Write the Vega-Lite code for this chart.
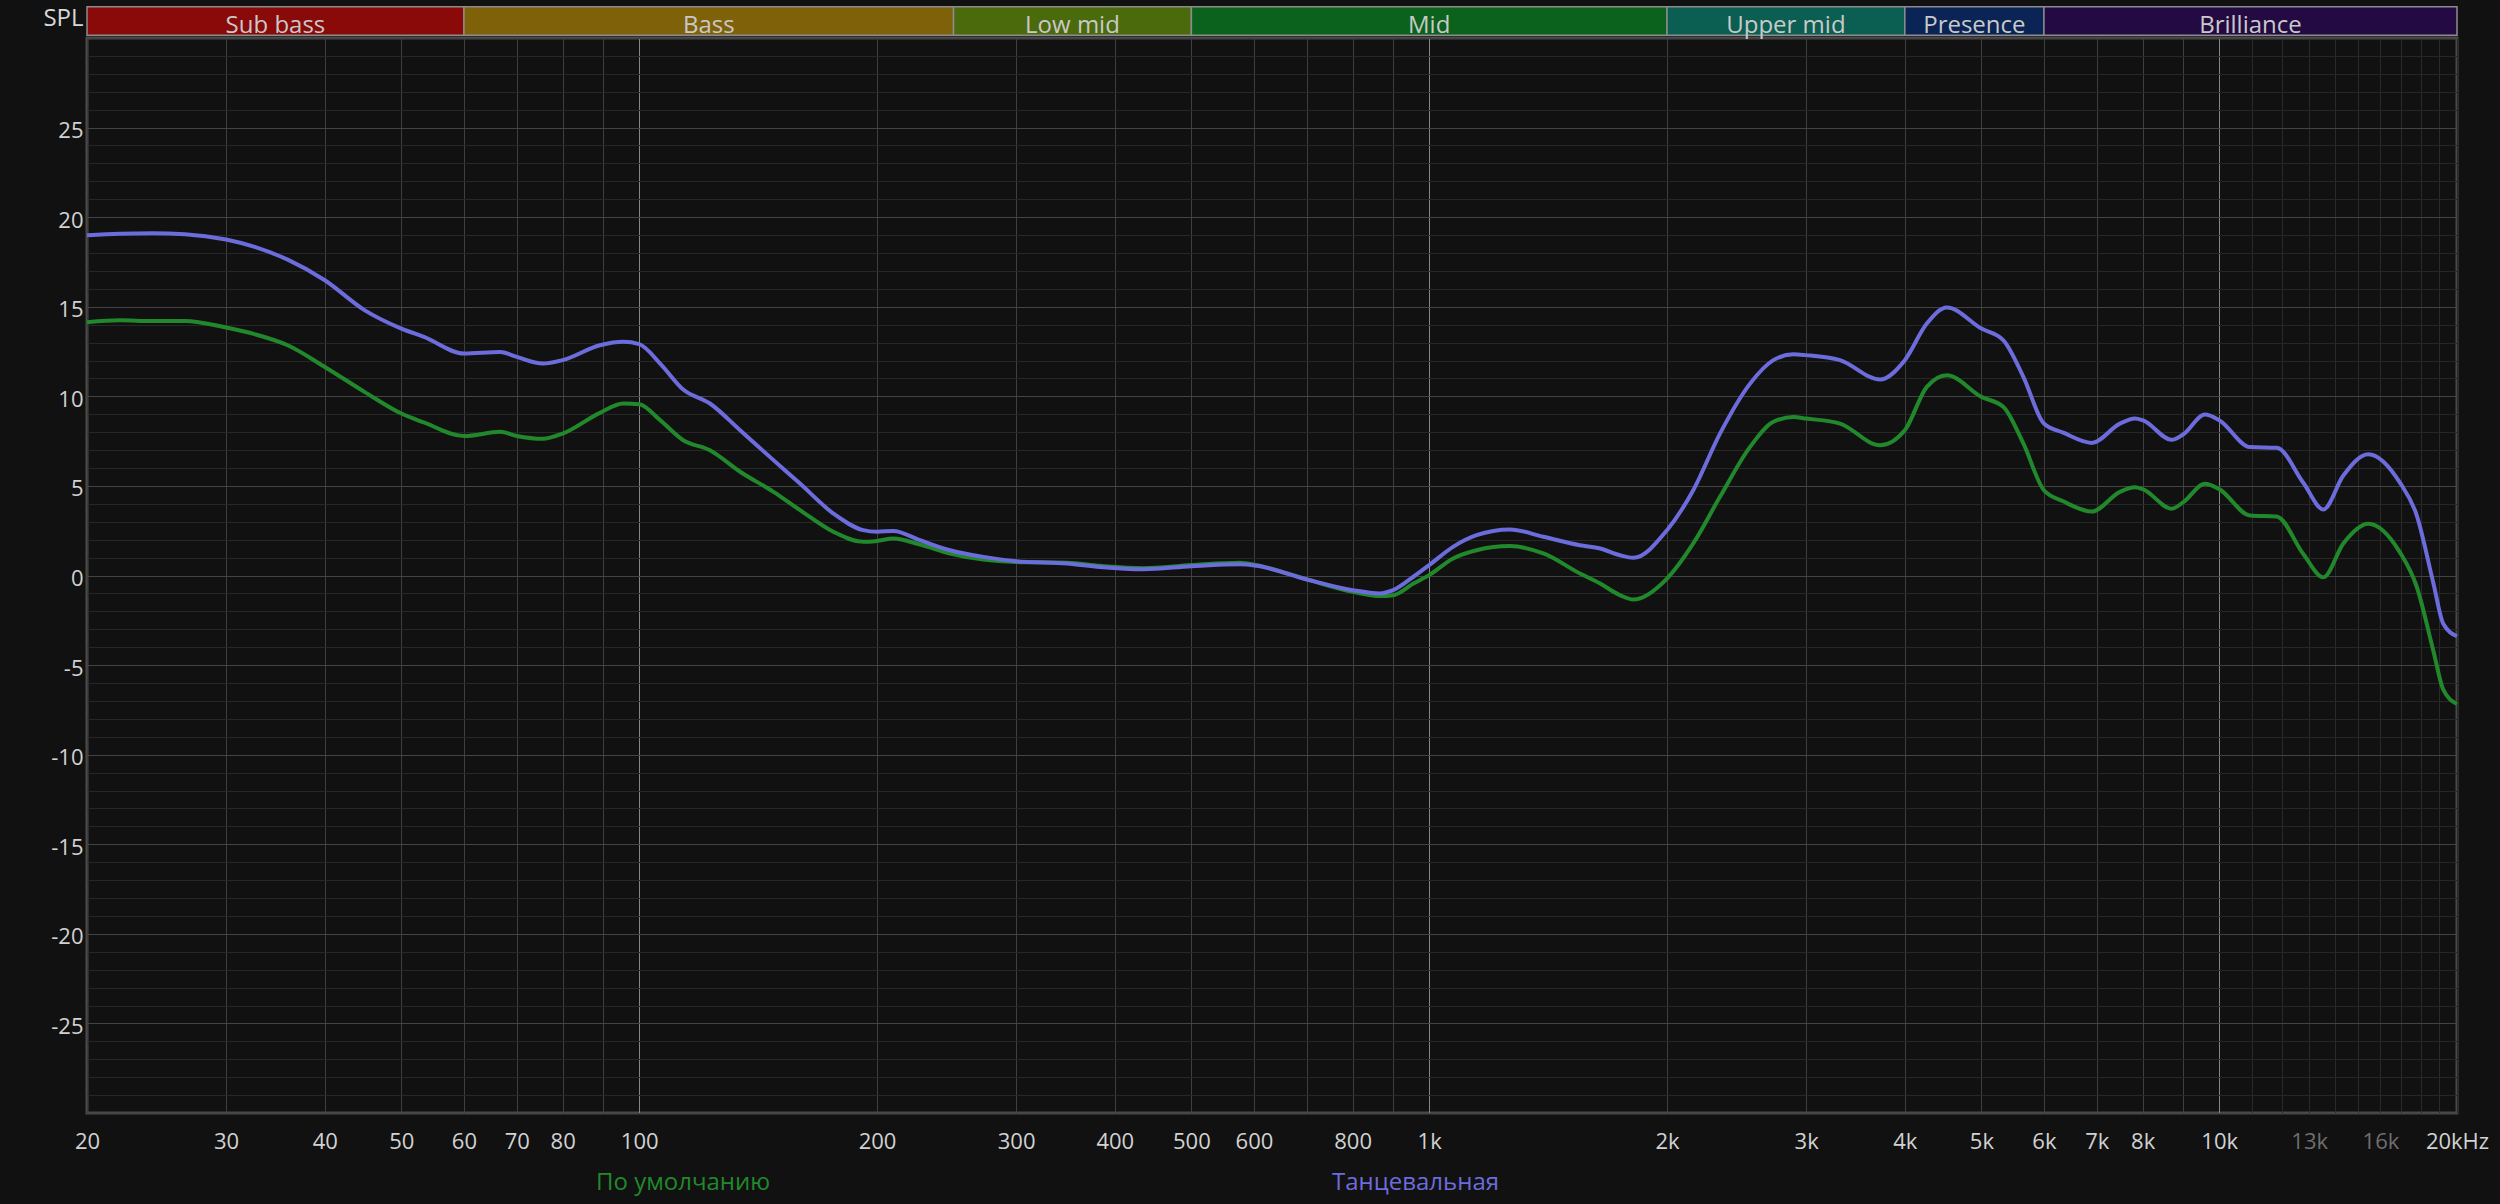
{
  "$schema": "https://vega.github.io/schema/vega-lite/v6.json",
  "width": 2370,
  "height": 1075,
  "autosize": {"type": "none"},
  "padding": {"left": 87, "top": 38, "right": 43, "bottom": 91},
  "background": "#111111",
  "config": {
    "view": {"stroke": "#4a4a4a", "strokeWidth": 3},
    "font": "Open Sans"
  },
  "datasets": {
    "curves": [
      {"s": "По умолчанию", "f": 20, "db": 14.14},
      {"s": "По умолчанию", "f": 22, "db": 14.25},
      {"s": "По умолчанию", "f": 24.2, "db": 14.2},
      {"s": "По умолчанию", "f": 26.6, "db": 14.2},
      {"s": "По умолчанию", "f": 30, "db": 13.84},
      {"s": "По умолчанию", "f": 32.6, "db": 13.47},
      {"s": "По умолчанию", "f": 35.9, "db": 12.85},
      {"s": "По умолчанию", "f": 40, "db": 11.64},
      {"s": "По умолчанию", "f": 44.9, "db": 10.25},
      {"s": "По умолчанию", "f": 50, "db": 9.04},
      {"s": "По умолчанию", "f": 53.4, "db": 8.54},
      {"s": "По умолчанию", "f": 60, "db": 7.78},
      {"s": "По умолчанию", "f": 66.7, "db": 8.02},
      {"s": "По умолчанию", "f": 70, "db": 7.79},
      {"s": "По умолчанию", "f": 75.5, "db": 7.63},
      {"s": "По умолчанию", "f": 80, "db": 7.92},
      {"s": "По умолчанию", "f": 89.2, "db": 9.08},
      {"s": "По умолчанию", "f": 95.5, "db": 9.6},
      {"s": "По умолчанию", "f": 100, "db": 9.56},
      {"s": "По умолчанию", "f": 106.3, "db": 8.67},
      {"s": "По умолчанию", "f": 113.7, "db": 7.55},
      {"s": "По умолчанию", "f": 122.9, "db": 6.99},
      {"s": "По умолчанию", "f": 134.2, "db": 5.79},
      {"s": "По умолчанию", "f": 147.9, "db": 4.67},
      {"s": "По умолчанию", "f": 159.8, "db": 3.65},
      {"s": "По умолчанию", "f": 176.1, "db": 2.44},
      {"s": "По умолчанию", "f": 192.1, "db": 1.88},
      {"s": "По умолчанию", "f": 200, "db": 1.93},
      {"s": "По умолчанию", "f": 209.7, "db": 2.06},
      {"s": "По умолчанию", "f": 226.7, "db": 1.73},
      {"s": "По умолчанию", "f": 247.4, "db": 1.23},
      {"s": "По умолчанию", "f": 272.7, "db": 0.89},
      {"s": "По умолчанию", "f": 300, "db": 0.76},
      {"s": "По умолчанию", "f": 347.9, "db": 0.71},
      {"s": "По умолчанию", "f": 383, "db": 0.54},
      {"s": "По умолчанию", "f": 434.6, "db": 0.41},
      {"s": "По умолчанию", "f": 500, "db": 0.58},
      {"s": "По умолчанию", "f": 576, "db": 0.71},
      {"s": "По умолчанию", "f": 605, "db": 0.58},
      {"s": "По умолчанию", "f": 700, "db": -0.22},
      {"s": "По умолчанию", "f": 800, "db": -0.91},
      {"s": "По умолчанию", "f": 866, "db": -1.15},
      {"s": "По умолчанию", "f": 900, "db": -1.1},
      {"s": "По умолчанию", "f": 955, "db": -0.45},
      {"s": "По умолчанию", "f": 1000, "db": 0.02},
      {"s": "По умолчанию", "f": 1072, "db": 0.95},
      {"s": "По умолчанию", "f": 1148, "db": 1.41},
      {"s": "По умолчанию", "f": 1266, "db": 1.64},
      {"s": "По умолчанию", "f": 1395, "db": 1.23},
      {"s": "По умолчанию", "f": 1552, "db": 0.11},
      {"s": "По умолчанию", "f": 1646, "db": -0.45},
      {"s": "По умолчанию", "f": 1744, "db": -1.1},
      {"s": "По умолчанию", "f": 1813, "db": -1.34},
      {"s": "По умолчанию", "f": 2000, "db": -0.17},
      {"s": "По умолчанию", "f": 2159, "db": 1.79},
      {"s": "По умолчанию", "f": 2334, "db": 4.39},
      {"s": "По умолчанию", "f": 2548, "db": 7.18},
      {"s": "По умолчанию", "f": 2727, "db": 8.58},
      {"s": "По умолчанию", "f": 2890, "db": 8.85},
      {"s": "По умолчанию", "f": 3000, "db": 8.76},
      {"s": "По умолчанию", "f": 3311, "db": 8.48},
      {"s": "По умолчанию", "f": 3721, "db": 7.27},
      {"s": "По умолчанию", "f": 4000, "db": 8.11},
      {"s": "По умолчанию", "f": 4265, "db": 10.53},
      {"s": "По умолчанию", "f": 4521, "db": 11.18},
      {"s": "По умолчанию", "f": 5000, "db": 9.97},
      {"s": "По умолчанию", "f": 5332, "db": 9.41},
      {"s": "По умолчанию", "f": 5651, "db": 7.37},
      {"s": "По умолчанию", "f": 6000, "db": 4.76},
      {"s": "По умолчанию", "f": 6347, "db": 4.14},
      {"s": "По умолчанию", "f": 6897, "db": 3.57},
      {"s": "По умолчанию", "f": 7488, "db": 4.67},
      {"s": "По умолчанию", "f": 7824, "db": 4.92},
      {"s": "По умолчанию", "f": 8000, "db": 4.82},
      {"s": "По умолчанию", "f": 8708, "db": 3.73},
      {"s": "По умолчанию", "f": 9000, "db": 4.08},
      {"s": "По умолчанию", "f": 9594, "db": 5.12},
      {"s": "По умолчанию", "f": 10000, "db": 4.82},
      {"s": "По умолчанию", "f": 10940, "db": 3.35},
      {"s": "По умолчанию", "f": 11826, "db": 3.29},
      {"s": "По умолчанию", "f": 12778, "db": 1.2},
      {"s": "По умолчанию", "f": 13546, "db": -0.1},
      {"s": "По умолчанию", "f": 14360, "db": 1.79},
      {"s": "По умолчанию", "f": 15445, "db": 2.89},
      {"s": "По умолчанию", "f": 16936, "db": 1.29},
      {"s": "По умолчанию", "f": 17777, "db": -0.6},
      {"s": "По умолчанию", "f": 18663, "db": -4.18},
      {"s": "По умолчанию", "f": 19215, "db": -6.37},
      {"s": "По умолчанию", "f": 20000, "db": -7.17},
      {"s": "Танцевальная", "f": 20, "db": 18.99},
      {"s": "Танцевальная", "f": 22, "db": 19.08},
      {"s": "Танцевальная", "f": 24.2, "db": 19.1},
      {"s": "Танцевальная", "f": 26.6, "db": 19.05},
      {"s": "Танцевальная", "f": 30, "db": 18.75},
      {"s": "Танцевальная", "f": 32.6, "db": 18.34},
      {"s": "Танцевальная", "f": 35.9, "db": 17.63},
      {"s": "Танцевальная", "f": 40, "db": 16.48},
      {"s": "Танцевальная", "f": 44.9, "db": 14.81},
      {"s": "Танцевальная", "f": 50, "db": 13.78},
      {"s": "Танцевальная", "f": 53.4, "db": 13.32},
      {"s": "Танцевальная", "f": 60, "db": 12.39},
      {"s": "Танцевальная", "f": 66.7, "db": 12.48},
      {"s": "Танцевальная", "f": 70, "db": 12.2},
      {"s": "Танцевальная", "f": 75.5, "db": 11.83},
      {"s": "Танцевальная", "f": 80, "db": 12.02},
      {"s": "Танцевальная", "f": 89.2, "db": 12.85},
      {"s": "Танцевальная", "f": 95.5, "db": 13.04},
      {"s": "Танцевальная", "f": 100, "db": 12.91},
      {"s": "Танцевальная", "f": 106.3, "db": 11.83},
      {"s": "Танцевальная", "f": 113.7, "db": 10.38},
      {"s": "Танцевальная", "f": 122.9, "db": 9.6},
      {"s": "Танцевальная", "f": 134.2, "db": 8.11},
      {"s": "Танцевальная", "f": 147.9, "db": 6.44},
      {"s": "Танцевальная", "f": 159.8, "db": 5.13},
      {"s": "Танцевальная", "f": 176.1, "db": 3.46},
      {"s": "Танцевальная", "f": 192.1, "db": 2.53},
      {"s": "Танцевальная", "f": 200, "db": 2.44},
      {"s": "Танцевальная", "f": 209.7, "db": 2.49},
      {"s": "Танцевальная", "f": 226.7, "db": 1.97},
      {"s": "Танцевальная", "f": 247.4, "db": 1.41},
      {"s": "Танцевальная", "f": 272.7, "db": 1.04},
      {"s": "Танцевальная", "f": 300, "db": 0.8},
      {"s": "Танцевальная", "f": 347.9, "db": 0.67},
      {"s": "Танцевальная", "f": 383, "db": 0.48},
      {"s": "Танцевальная", "f": 434.6, "db": 0.35},
      {"s": "Танцевальная", "f": 500, "db": 0.52},
      {"s": "Танцевальная", "f": 576, "db": 0.63},
      {"s": "Танцевальная", "f": 605, "db": 0.54},
      {"s": "Танцевальная", "f": 700, "db": -0.22},
      {"s": "Танцевальная", "f": 800, "db": -0.82},
      {"s": "Танцевальная", "f": 866, "db": -1.0},
      {"s": "Танцевальная", "f": 900, "db": -0.82},
      {"s": "Танцевальная", "f": 955, "db": -0.07},
      {"s": "Танцевальная", "f": 1000, "db": 0.58},
      {"s": "Танцевальная", "f": 1072, "db": 1.6},
      {"s": "Танцевальная", "f": 1148, "db": 2.25},
      {"s": "Танцевальная", "f": 1266, "db": 2.57},
      {"s": "Танцевальная", "f": 1395, "db": 2.16},
      {"s": "Танцевальная", "f": 1552, "db": 1.69},
      {"s": "Танцевальная", "f": 1646, "db": 1.51},
      {"s": "Танцевальная", "f": 1744, "db": 1.13},
      {"s": "Танцевальная", "f": 1813, "db": 0.99},
      {"s": "Танцевальная", "f": 2000, "db": 2.53},
      {"s": "Танцевальная", "f": 2159, "db": 4.76},
      {"s": "Танцевальная", "f": 2334, "db": 7.92},
      {"s": "Танцевальная", "f": 2548, "db": 10.71},
      {"s": "Танцевальная", "f": 2727, "db": 12.02},
      {"s": "Танцевальная", "f": 2890, "db": 12.35},
      {"s": "Танцевальная", "f": 3000, "db": 12.3},
      {"s": "Танцевальная", "f": 3311, "db": 12.02},
      {"s": "Танцевальная", "f": 3721, "db": 10.94},
      {"s": "Танцевальная", "f": 4000, "db": 12.02},
      {"s": "Танцевальная", "f": 4265, "db": 14.06},
      {"s": "Танцевальная", "f": 4521, "db": 14.96},
      {"s": "Танцевальная", "f": 5000, "db": 13.78},
      {"s": "Танцевальная", "f": 5332, "db": 13.13},
      {"s": "Танцевальная", "f": 5651, "db": 11.09},
      {"s": "Танцевальная", "f": 6000, "db": 8.48},
      {"s": "Танцевальная", "f": 6347, "db": 7.97},
      {"s": "Танцевальная", "f": 6897, "db": 7.4},
      {"s": "Танцевальная", "f": 7488, "db": 8.48},
      {"s": "Танцевальная", "f": 7824, "db": 8.76},
      {"s": "Танцевальная", "f": 8000, "db": 8.67},
      {"s": "Танцевальная", "f": 8708, "db": 7.57},
      {"s": "Танцевальная", "f": 9000, "db": 7.87},
      {"s": "Танцевальная", "f": 9594, "db": 8.98},
      {"s": "Танцевальная", "f": 10000, "db": 8.67},
      {"s": "Танцевальная", "f": 10940, "db": 7.17},
      {"s": "Танцевальная", "f": 11826, "db": 7.13},
      {"s": "Танцевальная", "f": 12778, "db": 5.18},
      {"s": "Танцевальная", "f": 13546, "db": 3.69},
      {"s": "Танцевальная", "f": 14360, "db": 5.58},
      {"s": "Танцевальная", "f": 15445, "db": 6.77},
      {"s": "Танцевальная", "f": 16936, "db": 5.18},
      {"s": "Танцевальная", "f": 17777, "db": 3.39},
      {"s": "Танцевальная", "f": 18663, "db": -0.4},
      {"s": "Танцевальная", "f": 19215, "db": -2.69},
      {"s": "Танцевальная", "f": 20000, "db": -3.39}
    ],
    "bands": [
      {"band": "Sub bass", "f": 20, "f2": 60},
      {"band": "Bass", "f": 60, "f2": 250},
      {"band": "Low mid", "f": 250, "f2": 500},
      {"band": "Mid", "f": 500, "f2": 2000},
      {"band": "Upper mid", "f": 2000, "f2": 4000},
      {"band": "Presence", "f": 4000, "f2": 6000},
      {"band": "Brilliance", "f": 6000, "f2": 20000}
    ]
  },
  "layer": [
    {
      "data": {"name": "bands"},
      "mark": {"type": "rect", "stroke": "#8c8c8c", "strokeWidth": 1.5},
      "encoding": {
        "x": {"field": "f", "type": "quantitative", "scale": {"type": "log", "domain": [20, 20000]}},
        "x2": {"field": "f2"},
        "y": {"datum": 30.15, "type": "quantitative", "scale": {"domain": [-30, 30]}},
        "y2": {"datum": 31.75},
        "fill": {
          "field": "band", "type": "nominal", "legend": null,
          "scale": {
            "domain": ["Sub bass", "Bass", "Low mid", "Mid", "Upper mid", "Presence", "Brilliance"],
            "range": ["#8a0a0a", "#7f610a", "#4a6a0c", "#0a621c", "#0a5f52", "#0a2456", "#240a42"]
          }
        }
      }
    },
    {
      "data": {"name": "bands"},
      "transform": [{"calculate": "sqrt(datum.f * datum.f2)", "as": "mid"}],
      "mark": {"type": "text", "fontSize": 24, "color": "#c9c9c9", "baseline": "alphabetic", "align": "center", "font": "Open Sans"},
      "encoding": {
        "x": {"field": "mid", "type": "quantitative", "scale": {"type": "log", "domain": [20, 20000]}},
        "y": {"datum": 30.27, "type": "quantitative", "scale": {"domain": [-30, 30]}},
        "text": {"field": "band"}
      }
    },
    {
      "data": {"name": "curves"},
      "transform": [{"filter": "datum.s === 'По умолчанию'"}],
      "mark": {"type": "line", "strokeWidth": 4, "interpolate": "monotone"},
      "encoding": {
        "x": {
          "field": "f", "type": "quantitative",
          "scale": {"type": "log", "domain": [20, 20000]},
          "axis": {
            "title": null,
            "values": [20, 30, 40, 50, 60, 70, 80, 90, 100, 200, 300, 400, 500, 600, 700, 800, 900, 1000, 2000, 3000, 4000, 5000, 6000, 7000, 8000, 9000, 10000, 11000, 12000, 13000, 14000, 15000, 16000, 17000, 18000, 19000, 20000],
            "tickCount": 200,
            "labelExpr": "indexof([20,30,40,50,60,70,80,100,200,300,400,500,600,800,1000,2000,3000,4000,5000,6000,7000,8000,10000,13000,16000,20000], datum.value) < 0 ? '' : (datum.value >= 20000 ? '20kHz' : (datum.value >= 1000 ? (datum.value / 1000) + 'k' : '' + datum.value))",
            "labelFlush": false,
            "labelOverlap": false,
            "labelFont": "Open Sans",
            "labelFontSize": 22,
            "labelColor": {"condition": {"test": "datum.value === 13000 || datum.value === 16000", "value": "#6e6e6e"}, "value": "#d2d2d2"},
            "labelPadding": 18,
            "ticks": false,
            "tickSize": 0,
            "domain": false,
            "grid": true,
            "gridWidth": 1,
            "gridColor": {"condition": [{"test": "datum.value === 100 || datum.value === 1000 || datum.value === 10000", "value": "#858585"}, {"test": "datum.value > 10000", "value": "#2a2a2a"}], "value": "#3e3e3e"}
          }
        },
        "y": {
          "field": "db", "type": "quantitative",
          "scale": {"domain": [-30, 30]},
          "axis": {
            "title": "SPL",
            "titleAngle": 0,
            "titleAlign": "right",
            "titleBaseline": "alphabetic",
            "titleX": -4,
            "titleY": -13,
            "titleFont": "Open Sans",
            "titleFontSize": 24,
            "titleFontWeight": "normal",
            "titleColor": "#d8d8d8",
            "values": [-30, -29, -28, -27, -26, -25, -24, -23, -22, -21, -20, -19, -18, -17, -16, -15, -14, -13, -12, -11, -10, -9, -8, -7, -6, -5, -4, -3, -2, -1, 0, 1, 2, 3, 4, 5, 6, 7, 8, 9, 10, 11, 12, 13, 14, 15, 16, 17, 18, 19, 20, 21, 22, 23, 24, 25, 26, 27, 28, 29, 30],
            "tickCount": 200,
            "labelExpr": "(datum.value % 5 === 0 && abs(datum.value) < 30) ? '' + datum.value : ''",
            "labelOverlap": false,
            "labelFlush": false,
            "labelFont": "Open Sans",
            "labelFontSize": 22,
            "labelColor": "#d2d2d2",
            "labelPadding": 4,
            "labelOffset": 3,
            "ticks": false,
            "tickSize": 0,
            "domain": false,
            "grid": true,
            "gridWidth": 1,
            "gridColor": {"condition": {"test": "datum.value % 5 === 0", "value": "#434343"}, "value": "#272727"}
          }
        },
        "stroke": {
          "field": "s", "type": "nominal",
          "scale": {"domain": ["По умолчанию"], "range": ["#21892b"]},
          "legend": {
            "orient": "none", "legendX": 485, "legendY": 1133, "title": null, "padding": 0,
            "symbolSize": 0, "symbolOpacity": 0, "symbolStrokeWidth": 0, "labelOffset": 0,
            "labelFont": "Open Sans", "labelFontSize": 24, "labelColor": "#21892b", "labelLimit": 0
          }
        }
      }
    },
    {
      "data": {"name": "curves"},
      "transform": [{"filter": "datum.s === 'Танцевальная'"}],
      "mark": {"type": "line", "strokeWidth": 4, "interpolate": "monotone"},
      "encoding": {
        "x": {"field": "f", "type": "quantitative", "scale": {"type": "log", "domain": [20, 20000]}},
        "y": {"field": "db", "type": "quantitative", "scale": {"domain": [-30, 30]}},
        "stroke": {
          "field": "s", "type": "nominal",
          "scale": {"domain": ["Танцевальная"], "range": ["#6c6cdc"]},
          "legend": {
            "orient": "none", "legendX": 1221, "legendY": 1133, "title": null, "padding": 0,
            "symbolSize": 0, "symbolOpacity": 0, "symbolStrokeWidth": 0, "labelOffset": 0,
            "labelFont": "Open Sans", "labelFontSize": 24, "labelColor": "#6c6cdc", "labelLimit": 0
          }
        }
      }
    }
  ],
  "resolve": {"scale": {"stroke": "independent"}, "legend": {"stroke": "independent"}}
}
